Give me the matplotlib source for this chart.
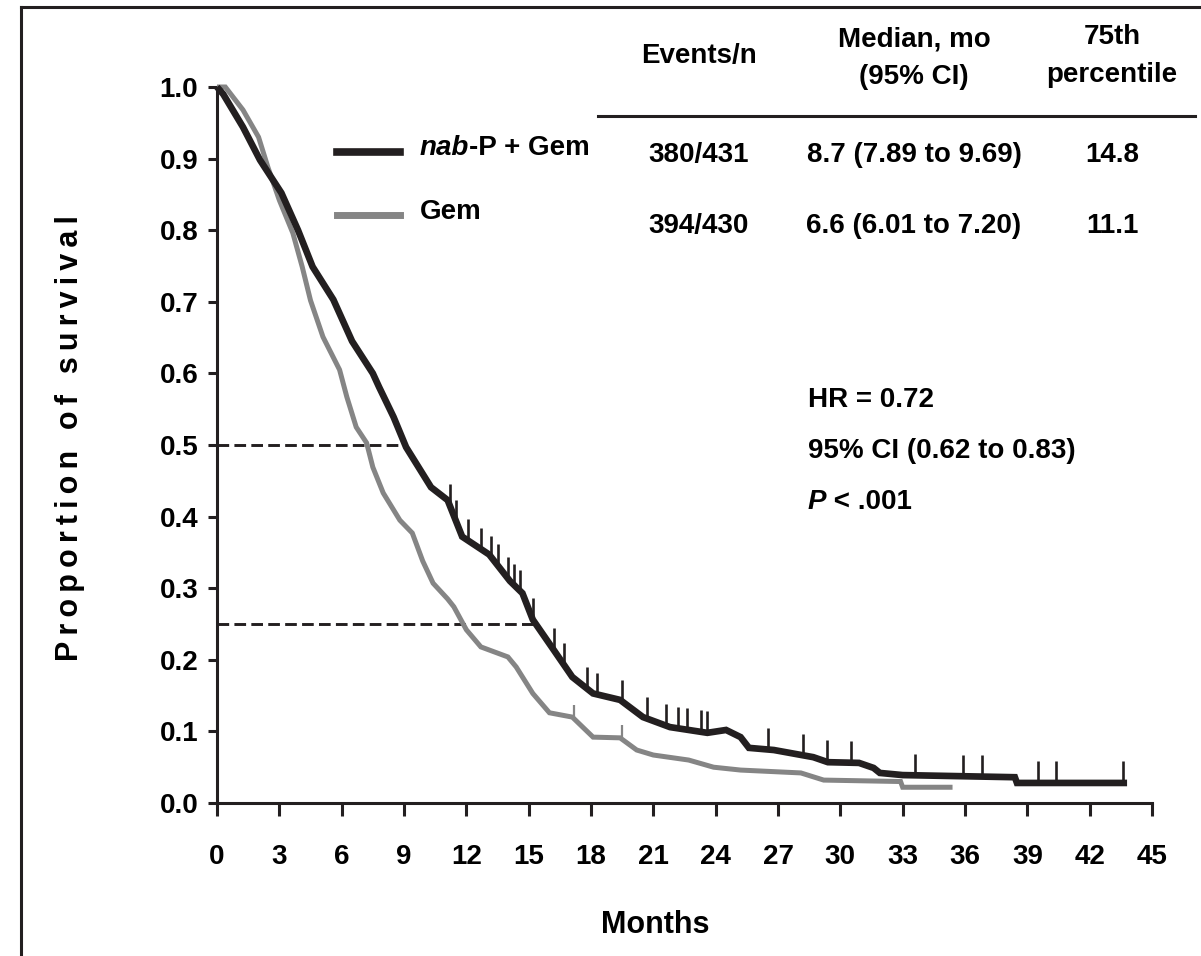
import numpy as np
import matplotlib
matplotlib.use("Agg")
from matplotlib import pyplot as plt
from matplotlib.lines import Line2D

# Arial-like font, bold everywhere
plt.rcParams['font.family'] = ['Liberation Sans', 'DejaVu Sans']
plt.rcParams['font.weight'] = 'bold'

# Kaplan-Meier curves (months, proportion surviving)
nabp_t = [0, 0.3, 1.25, 2.07, 3.1, 3.9, 4.6, 5.6, 6.5, 7.5, 7.8, 8.5, 9.1, 10.3,
          11.1, 11.8, 13.1, 14.1, 14.7, 15.2, 16.2, 17.1, 18.1, 19.4, 20.5, 21.8,
          23.6, 24.5, 25.2, 25.6, 26.8, 28.7, 29.4, 30.9, 31.6, 31.9, 33.0, 38.4,
          38.5, 43.8]
nabp_s = [1.0, 0.99, 0.944, 0.898, 0.852, 0.80, 0.749, 0.703, 0.645, 0.60, 0.581,
          0.539, 0.497, 0.441, 0.423, 0.372, 0.347, 0.31, 0.293, 0.256, 0.214,
          0.176, 0.153, 0.144, 0.12, 0.106, 0.098, 0.102, 0.092, 0.077, 0.074,
          0.064, 0.057, 0.056, 0.049, 0.042, 0.039, 0.036, 0.028, 0.028]
nabp_cens = [11.2, 11.5, 12.1, 12.7, 13.2, 13.5, 14.0, 14.3, 14.6, 15.2, 16.2,
             16.7, 17.8, 18.3, 19.5, 20.7, 21.6, 22.2, 22.6, 23.3, 23.6, 26.5,
             28.2, 29.35, 30.5, 33.6, 35.9, 36.8, 39.5, 40.4, 43.6]

gem_t = [0, 0.4, 1.25, 2.0, 2.45, 3.0, 3.65, 4.1, 4.5, 5.1, 5.9, 6.25, 6.7, 7.2,
         7.5, 8.0, 8.8, 9.4, 9.9, 10.4, 11.1, 11.4, 12.0, 12.7, 14.0, 14.4, 15.2,
         16.0, 17.1, 18.1, 19.4, 20.2, 21.0, 22.7, 23.9, 25.2, 28.1, 29.2, 32.9,
         33.0, 35.4]
gem_s = [1.0, 1.0, 0.968, 0.93, 0.888, 0.842, 0.796, 0.749, 0.702, 0.651, 0.605,
         0.567, 0.525, 0.503, 0.469, 0.433, 0.395, 0.377, 0.338, 0.307, 0.285,
         0.274, 0.242, 0.218, 0.204, 0.19, 0.153, 0.126, 0.12, 0.092, 0.091,
         0.074, 0.067, 0.06, 0.05, 0.046, 0.042, 0.032, 0.03, 0.022, 0.022]
gem_cens = [17.2, 19.5]

# dashed guides (survival level, month where it meets the nab-P curve)
guide_levels = [0.5, 0.25]
guide_ends = [9.1, 15.3]

# table
col_heads = ["Events/n", "Median, mo\n(95% CI)", "75th\npercentile"]
rows = [["380/431", "8.7 (7.89 to 9.69)", "14.8"],
        ["394/430", "6.6 (6.01 to 7.20)", "11.1"]]
stats = ["HR = 0.72", "95% CI (0.62 to 0.83)", "< .001"]

BLACK = '#231f20'
GREY = '#858585'
W, H = 1201, 956
FS = 20

def fx(x):
    return x / W

def fy(y):
    return 1 - y / H

fig = plt.figure(figsize=(W / 100, H / 100), dpi=100)
ax = fig.add_axes([fx(217), fy(803), fx(1152) - fx(217), fy(87) - fy(803)])

ax.plot(gem_t, gem_s, color=GREY, lw=3.6, solid_joinstyle='miter',
        solid_capstyle='butt', clip_on=False, zorder=3)
ax.plot(nabp_t, nabp_s, color=BLACK, lw=4.8, solid_joinstyle='miter',
        solid_capstyle='butt', clip_on=False, zorder=4)

# censor marks
cy = np.interp(nabp_cens, nabp_t, nabp_s)
ax.vlines(nabp_cens, cy, cy + 0.03, color=BLACK, lw=1.9, zorder=5)
gy = np.interp(gem_cens, gem_t, gem_s)
ax.vlines(gem_cens, gy, gy + 0.02, color=GREY, lw=1.6, zorder=3)

for lev, end in zip(guide_levels, guide_ends):
    ax.plot([0, end], [lev, lev], color=BLACK, lw=2.1, dashes=(4, 1.8), zorder=2)

ax.set_xlim(0, 45)
ax.set_ylim(0, 1.0)
ax.set_xticks(np.arange(0, 46, 3))
ax.set_yticks(np.arange(0, 1.01, 0.1))
ax.set_yticklabels(["%.1f" % v for v in np.arange(0, 1.01, 0.1)])
for s in ['top', 'right']:
    ax.spines[s].set_visible(False)
for s in ['left', 'bottom']:
    ax.spines[s].set_linewidth(2.2)
    ax.spines[s].set_color(BLACK)
ax.tick_params(axis='x', direction='out', length=9.5, width=2.2, color=BLACK,
               pad=20, labelsize=FS)
ax.tick_params(axis='y', direction='out', length=6.5, width=2.2, color=BLACK,
               pad=7, labelsize=FS)

fig.text(fx(655), fy(925), "Months", ha='center', va='center', fontsize=22)
# spaced-out y label
ylab = "\u2009".join("Proportion of survival")
fig.text(fx(70), fy(438), ylab, ha='center', va='center', rotation=90, fontsize=22)

# legend
fig.add_artist(Line2D([fx(337), fx(400)], [fy(152), fy(152)], color=BLACK, lw=5.5))
fig.add_artist(Line2D([fx(337), fx(400)], [fy(215), fy(215)], color=GREY, lw=5.0))
t1 = fig.text(fx(420), fy(148), "nab", ha='left', va='center', fontsize=FS, style='italic')
ax.annotate("-P + Gem", xy=(1, 0.5), xycoords=t1, ha='left', va='center', fontsize=FS)
fig.text(fx(420), fy(212), "Gem", ha='left', va='center', fontsize=FS)

# table
col_x = [699, 914, 1112]
fig.text(fx(col_x[0]), fy(56), col_heads[0], ha='center', va='center', fontsize=FS)
fig.text(fx(col_x[1]), fy(58), col_heads[1], ha='center', va='center', fontsize=FS,
         linespacing=1.55)
fig.text(fx(col_x[2]), fy(56), col_heads[2], ha='center', va='center', fontsize=FS,
         linespacing=1.55)
fig.add_artist(Line2D([fx(598), fx(1195)], [fy(116), fy(116)], color=BLACK, lw=2.2))
for r, y in zip(rows, [155, 226]):
    for c, x in zip(r, col_x):
        fig.text(fx(x), fy(y), c, ha='center', va='center', fontsize=FS)

# HR block
fig.text(fx(808), fy(400), stats[0], ha='left', va='center', fontsize=FS)
fig.text(fx(808), fy(451), stats[1], ha='left', va='center', fontsize=FS)
tp = fig.text(fx(808), fy(502), "P", ha='left', va='center', fontsize=FS, style='italic')
ax.annotate(" " + stats[2], xy=(1, 0.5), xycoords=tp, ha='left', va='center', fontsize=FS)

# frame of the scanned figure
fig.add_artist(Line2D([fx(21), fx(21)], [fy(7), 0], color=BLACK, lw=2.2))
fig.add_artist(Line2D([fx(21), 1], [fy(7), fy(7)], color=BLACK, lw=2.2))

fig.savefig("out.png", dpi=100)
